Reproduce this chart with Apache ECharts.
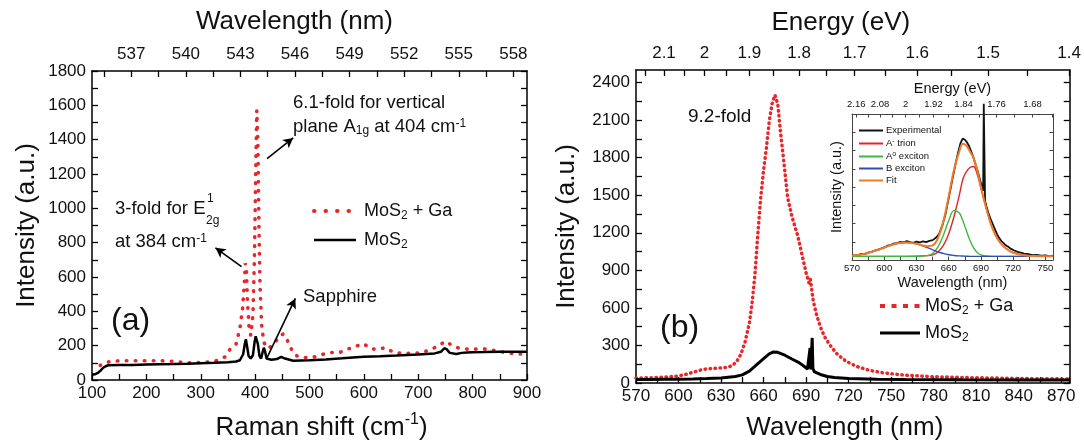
<!DOCTYPE html>
<html><head><meta charset="utf-8">
<script src="https://cdn.jsdelivr.net/npm/echarts@6/dist/echarts.min.js"></script>
<style>html,body{margin:0;padding:0;background:#fff}#c{width:1084px;height:446px}</style>
</head><body><div id="c"></div>
<script>
// ================= DATA =================
// (a) Raman spectra
const ramanShiftMoS2 = [100,105,110,115,120,125,130,150,175,200,225,250,275,300,325,350,365,372,378,381,383,385,388,392,396,399,401,403,405,408,411,414,416,418,421,430,440,448,455,470,500,530,560,600,630,660,700,730,742,748,752,758,770,780,790,800,820,850,875,900];
const ramanIntMoS2   = [30,33,40,52,70,80,86,88,87,90,92,93,95,98,100,103,108,115,150,210,237,200,140,125,145,220,255,262,210,140,125,165,188,170,125,118,122,135,125,112,115,120,126,135,138,142,148,155,165,185,180,158,152,158,160,162,163,165,165,165];
const ramanShiftGa = [115,120,130,150,175,200,225,250,275,300,325,345,355,365,372,377,380,382,384,386,389,392,396,399,401,403,405,407,409,412,416,422,430,438,446,452,458,465,472,480,495,510,525,540,555,570,585,597,605,615,625,640,655,670,690,705,720,735,745,752,760,775,790,805,820,840,860,880,900];
const ramanIntGa   = [85,95,105,112,112,112,112,108,100,102,108,135,185,210,300,420,560,680,640,450,300,260,380,750,1200,1570,1400,900,550,320,220,185,195,225,260,268,240,190,150,135,130,135,150,160,160,180,195,212,200,180,180,188,160,155,155,158,175,195,215,225,205,185,180,180,182,172,160,152,150];
const wavelengthTopLabels = [537,540,543,546,549,552,555,558];
const wavelengthTopTicks = [535.5,537,538.5,540,541.5,543,544.5,546,547.5,549,550.5,552,553.5,555,556.5,558];

// (b) PL spectra
const plWlGa  = [570,580,590,600,605,610,615,620,625,630,635,638,641,644,647,650,652,654,656,658,660,662,664,666,668,670,672,674,677,680,684,687,690,692,693,694.3,695,697,700,703,707,712,718,725,735,745,760,780,810,840,876];
const plIntGa = [40,42,46,56,68,85,102,113,117,120,127,140,170,230,330,480,650,880,1200,1480,1700,1880,2090,2230,2300,2230,2000,1800,1480,1330,1180,1030,880,800,830,820,660,560,450,370,300,230,175,135,100,80,62,50,42,36,32];
const plWlMoS2  = [570,580,590,600,610,620,630,640,645,650,655,660,664,667,670,675,680,685,689,691,692.2,692.8,693.3,693.8,694.3,694.8,696,700,705,710,720,740,760,800,840,876];
const plIntMoS2 = [28,28,29,30,32,35,40,52,65,95,145,195,232,248,245,222,192,163,130,112,102,280,108,105,360,115,88,68,52,44,36,30,27,25,24,23];
const plYLabels = [0,300,600,900,1200,1500,1800,2100,2400];
const plYTicks = [0,150,300,450,600,750,900,1050,1200,1350,1500,1650,1800,1950,2100,2250,2400];
const energyTopLabels = [2.1,2.0,1.9,1.8,1.7,1.6,1.5,1.4];
const energyTopTicks = [2.15,2.1,2.05,2.0,1.95,1.9,1.85,1.8,1.75,1.7,1.65,1.6,1.55,1.5,1.45,1.4];

// inset: PL fit
const insetWlExp  = [570,573,576,579,582,585,588,591,594,597,600,603,606,609,612,615,618,621,624,627,630,633,636,639,642,645,648,651,654,657,660,663,666,669,671,673,675,677,679,681,683,685,687,689,691,692,692.6,693.2,693.8,695,697,699,701,703,705,707,709,711,713,715,718,721,724,727,730,734,738,742,746,750,754,757];
const insetIntExp = [3.5,2.8,3.6,4.2,4.0,5.1,5.5,6.4,6.9,7.8,8.6,9.8,10.2,11.3,11.6,12.4,12.1,12.9,12.3,11.8,12.6,12.0,12.8,12.3,13.1,13.6,15.2,17.8,23.5,31.4,42.6,53.8,64.7,74.5,80.2,83.1,82.4,80.6,77.9,74.1,70.2,65.3,60.8,55.1,50.2,47.5,107,106,40.5,37,32,28,24.5,21,17.5,15,13,11.5,10,9.2,7.6,6.5,5.6,5.0,4.3,4.0,3.4,3.5,3.0,3.1,2.7,2.9];
const insetWlFit = [570,580,590,600,610,620,630,640,645,650,655,660,665,670,673,676,680,683,686,690,695,700,705,710,715,720,730,740,750,757];
const insetAminus = [2.5,2.5,2.5,2.5,2.5,2.5,2.6,3,3.5,5.5,10,18,30,45,55,60,63.5,64,60,49,35,23,15,10,7,5,3.2,2.7,2.5,2.5];
const insetA0     = [2.5,2.5,2.5,2.5,2.5,2.5,2.5,3,4.5,9,17,27,34,32,27,21,13,8.5,5.5,3.5,2.7,2.5,2.5,2.5,2.5,2.5,2.5,2.5,2.5,2.5];
const insetB      = [3,4,6,8.5,11,12,11,8.5,7,5.5,4.5,3.6,3.1,2.8,2.7,2.6,2.5,2.5,2.5,2.5,2.5,2.5,2.5,2.5,2.5,2.5,2.5,2.5,2.5,2.5];
const insetFit    = [3,4,6,8.5,11,12,11.1,9.5,10,15,26.5,43.6,62.1,74.8,79.7,78.6,74,70,63,50,35.2,23,15,10,7,5,3.2,2.7,2.5,2.5];
const insetEnergyLabels = [2.16,2.08,2.00,1.92,1.84,1.76,1.68];
const insetEnergyTicks = [2.16,2.12,2.08,2.04,2.00,1.96,1.92,1.88,1.84,1.80,1.76,1.72,1.68,1.64];

// annotation arrows (data coordinates of panel a)
const arrowA1g = [[422,1290],[470,1410]];
const arrowE2g = [[375,660],[327,770]];
const arrowSapphire = [[422,130],[474,475]];

// ================= CHART =================
const FONT = '"Liberation Sans", Arial, Helvetica, sans-serif';
const HC = 1239.84;
const pairs = (xs, ys) => xs.map((x, i) => [x, ys[i]]);
const toWl = arr => arr.map(e => HC / e);
const plain = v => String(v);

function merge(a, b) {
  const out = Array.isArray(a) ? a.slice() : Object.assign({}, a);
  for (const k in b) {
    const v = b[k];
    if (v && typeof v === 'object' && !Array.isArray(v) && a && typeof a[k] === 'object' && !Array.isArray(a[k])) out[k] = merge(a[k], v);
    else out[k] = v;
  }
  return out;
}
function axis(extra, inset) {
  const c = inset ? '#444' : '#000';
  const base = {
    type: 'value',
    axisLine: {show: true, onZero: false, lineStyle: {color: c, width: inset ? 1 : 1.5}},
    axisTick: {show: true, inside: true, length: inset ? 3.5 : 6, lineStyle: {color: c, width: inset ? 1 : 1.3}},
    minorTick: {show: false},
    axisLabel: {show: true, color: '#111', fontFamily: FONT, fontSize: inset ? 9.5 : 17, margin: 6, formatter: plain},
    splitLine: {show: false},
    nameLocation: 'middle',
    nameTextStyle: {color: '#111', fontFamily: FONT, fontSize: inset ? 14.5 : 26}
  };
  return merge(base, extra);
}
const supRich = {
  t: {fontFamily: FONT, fontSize: 26, color: '#111', lineHeight: 32},
  p: {fontFamily: FONT, fontSize: 16, color: '#111', verticalAlign: 'top', lineHeight: 17}
};
const legendRich = {
  m: {fontFamily: FONT, fontSize: 18, color: '#111', lineHeight: 22},
  s: {fontFamily: FONT, fontSize: 12, color: '#111', verticalAlign: 'bottom', lineHeight: 12}
};
const insetRich = {
  m: {fontFamily: FONT, fontSize: 9.5, color: '#111', lineHeight: 12},
  u: {fontFamily: FONT, fontSize: 7, color: '#111', verticalAlign: 'top', lineHeight: 7}
};
const legendText = {
  a_ga: '{m|MoS}{s|2}{m| + Ga}', a_mos: '{m|MoS}{s|2}',
  b_ga: '{m|MoS}{s|2}{m| + Ga}', b_mos: '{m|MoS}{s|2}',
  exp: '{m|Experimental}', trion: '{m|A}{u|-}{m| trion}', a0: '{m|A}{u|o}{m| exciton}',
  bex: '{m|B exciton}', fit: '{m|Fit}'
};
const energyFmt = v => String(+(HC / v).toFixed(2));
const legendBase = {orient: 'vertical', selectedMode: false, padding: 0, itemStyle: {opacity: 0}, formatter: n => legendText[n]};

const RED = '#e8262a';
const option = {
  animation: false,
  backgroundColor: '#fff',
  grid: [
    {left: 92, right: 557, top: 71, bottom: 58},
    {left: 636, right: 13, top: 70, bottom: 58},
    {left: 852, right: 31, top: 114, bottom: 186}
  ],
  xAxis: [
    axis({gridIndex: 0, position: 'bottom', min: 100, max: 900, interval: 100,
      minorTick: {show: true, splitNumber: 2, length: 6, lineStyle: {color: '#000', width: 1.3}},
      axisLabel: {margin: 5},
      name: '{t|Raman shift (cm}{p|-1}{t|)}', nameGap: 32, nameTextStyle: {rich: supRich, padding: [0, 0, 0, 24]}}),
    axis({gridIndex: 0, position: 'top', min: 534.84, max: 558.75,
      axisLabel: {customValues: wavelengthTopLabels, formatter: v => String(Math.round(v)), margin: 8},
      axisTick: {customValues: wavelengthTopTicks},
      name: 'Wavelength (nm)', nameGap: 36, nameTextStyle: {padding: [0, 30, 0, 0]}}),
    axis({gridIndex: 1, position: 'bottom', min: 570, max: 876, interval: 30,
      minorTick: {show: true, splitNumber: 2, length: 6, lineStyle: {color: '#000', width: 1.3}},
      axisLabel: {margin: 5},
      name: 'Wavelength (nm)', nameGap: 32, nameTextStyle: {padding: [0, 16, 0, 0]}}),
    axis({gridIndex: 1, position: 'top', min: 570, max: 886,
      axisLabel: {customValues: toWl(energyTopLabels), formatter: energyFmt, margin: 8},
      axisTick: {customValues: toWl(energyTopTicks)},
      name: 'Energy (eV)', nameGap: 34, nameTextStyle: {padding: [0, 24, 0, 0]}}),
    axis({gridIndex: 2, position: 'bottom', min: 570, max: 757, interval: 30,
      minorTick: {show: true, splitNumber: 2, length: 3.5, lineStyle: {color: '#444', width: 1}},
      axisLabel: {margin: 3},
      name: 'Wavelength (nm)', nameGap: 15}, true),
    axis({gridIndex: 2, position: 'top', min: 570, max: 757,
      axisLabel: {customValues: toWl(insetEnergyLabels), formatter: energyFmt, margin: 5},
      axisTick: {customValues: toWl(insetEnergyTicks)},
      name: 'Energy (eV)', nameGap: 18}, true)
  ],
  yAxis: [
    axis({gridIndex: 0, position: 'left', min: 0, max: 1800, interval: 200,
      minorTick: {show: true, splitNumber: 2, length: 6, lineStyle: {color: '#000', width: 1.3}},
      name: 'Intensity (a.u.)', nameGap: 52}),
    axis({gridIndex: 0, position: 'right', min: 0, max: 1800, interval: 200,
      minorTick: {show: true, splitNumber: 2, length: 6, lineStyle: {color: '#000', width: 1.3}},
      axisLabel: {show: false}}),
    axis({gridIndex: 1, position: 'left', min: 0, max: 2500,
      axisLabel: {customValues: plYLabels},
      axisTick: {customValues: plYTicks},
      name: 'Intensity (a.u.)', nameGap: 56}),
    axis({gridIndex: 1, position: 'right', min: 0, max: 2500,
      axisLabel: {show: false, customValues: plYLabels},
      axisTick: {customValues: plYTicks}}),
    axis({gridIndex: 2, position: 'left', min: 0, max: 100, interval: 12.5,
      axisLabel: {show: false},
      name: 'Intensity (a.u.)', nameGap: 8}, true),
    axis({gridIndex: 2, position: 'right', min: 0, max: 100, interval: 12.5,
      axisLabel: {show: false}}, true)
  ],
  legend: [
    Object.assign({}, legendBase, {
      data: [
        {name: 'a_ga', lineStyle: {width: 4, type: [0.5, 11], cap: 'round', color: RED}},
        {name: 'a_mos', lineStyle: {width: 2.6, color: '#000'}}
      ],
      left: 312, top: 202, itemWidth: 42, itemHeight: 18, itemGap: 9,
      textStyle: {rich: legendRich, padding: [0, 0, 0, 3]}}),
    Object.assign({}, legendBase, {
      data: [
        {name: 'b_ga', lineStyle: {width: 4, type: [5, 6.5], cap: 'butt', color: RED}},
        {name: 'b_mos', lineStyle: {width: 3, color: '#000'}}
      ],
      left: 878, top: 297, itemWidth: 40, itemHeight: 18, itemGap: 7,
      textStyle: {rich: legendRich}}),
    Object.assign({}, legendBase, {
      data: ['exp', 'trion', 'a0', 'bex', 'fit'].map(n => ({name: n, lineStyle: {width: 2}})),
      left: 858, top: 125.5, itemWidth: 24, itemHeight: 10, itemGap: 2,
      textStyle: {rich: insetRich, padding: [0, 0, 0, -2]}})
  ],
  series: [
    {name: 'a_ga', type: 'line', xAxisIndex: 0, yAxisIndex: 0, data: pairs(ramanShiftGa, ramanIntGa),
      symbol: 'none', showSymbol: false, lineStyle: {color: RED, width: 3.6, type: [0.5, 8.5], cap: 'round'}, itemStyle: {color: RED}, z: 3},
    {name: 'a_mos', type: 'line', xAxisIndex: 0, yAxisIndex: 0, data: pairs(ramanShiftMoS2, ramanIntMoS2),
      symbol: 'none', showSymbol: false, lineStyle: {color: '#000', width: 2.5}, itemStyle: {color: '#000'}, z: 4,
      markLine: {silent: true, symbol: ['none', 'arrow'], symbolSize: [8, 10], label: {show: false},
        lineStyle: {color: '#000', width: 1.6, type: 'solid'},
        data: [arrowA1g, arrowE2g, arrowSapphire].map(a => [{coord: a[0]}, {coord: a[1]}])}},
    {name: 'b_ga', type: 'line', xAxisIndex: 2, yAxisIndex: 2, data: pairs(plWlGa, plIntGa),
      symbol: 'none', showSymbol: false, lineStyle: {color: RED, width: 3.5, type: [0.5, 4.5], cap: 'round'}, itemStyle: {color: RED}, z: 3},
    {name: 'b_mos', type: 'line', xAxisIndex: 2, yAxisIndex: 2, data: pairs(plWlMoS2, plIntMoS2),
      symbol: 'none', showSymbol: false, lineStyle: {color: '#000', width: 3}, itemStyle: {color: '#000'}, z: 4},
    {name: 'exp', type: 'line', xAxisIndex: 4, yAxisIndex: 4, data: pairs(insetWlExp, insetIntExp), clip: false,
      symbol: 'none', showSymbol: false, lineStyle: {color: '#111', width: 1.8}, itemStyle: {color: '#111'}, z: 3},
    {name: 'trion', type: 'line', xAxisIndex: 4, yAxisIndex: 4, data: pairs(insetWlFit, insetAminus), smooth: 0.4,
      symbol: 'none', showSymbol: false, lineStyle: {color: '#e3242b', width: 1.4}, itemStyle: {color: '#e3242b'}, z: 4},
    {name: 'a0', type: 'line', xAxisIndex: 4, yAxisIndex: 4, data: pairs(insetWlFit, insetA0), smooth: 0.4,
      symbol: 'none', showSymbol: false, lineStyle: {color: '#3cb83c', width: 1.4}, itemStyle: {color: '#3cb83c'}, z: 4},
    {name: 'bex', type: 'line', xAxisIndex: 4, yAxisIndex: 4, data: pairs(insetWlFit, insetB), smooth: 0.4,
      symbol: 'none', showSymbol: false, lineStyle: {color: '#2f4fb5', width: 1.4}, itemStyle: {color: '#2f4fb5'}, z: 4},
    {name: 'fit', type: 'line', xAxisIndex: 4, yAxisIndex: 4, data: pairs(insetWlFit, insetFit), smooth: 0.4,
      symbol: 'none', showSymbol: false, lineStyle: {color: '#f07a26', width: 2}, itemStyle: {color: '#f07a26'}, z: 5}
  ],
  graphic: [
    {type: 'text', x: 293, y: 103, style: {text: '6.1-fold for vertical', fontFamily: FONT, fontSize: 18.5, fill: '#111', verticalAlign: 'middle'}},
    {type: 'text', x: 293, y: 127, style: {text: 'plane A{s|1g} at 404 cm{p|-1}', fontFamily: FONT, fontSize: 18.5, fill: '#111', verticalAlign: 'middle',
      rich: {s: {fontSize: 12, verticalAlign: 'bottom', lineHeight: 12}, p: {fontSize: 12, verticalAlign: 'top', lineHeight: 12}}}},
    {type: 'text', x: 115, y: 209, style: {text: '3-fold for E', fontFamily: FONT, fontSize: 18.5, fill: '#111', verticalAlign: 'middle'}},
    {type: 'text', x: 207, y: 199, style: {text: '1', fontFamily: FONT, fontSize: 12, fill: '#111', verticalAlign: 'middle'}},
    {type: 'text', x: 206, y: 221, style: {text: '2g', fontFamily: FONT, fontSize: 12, fill: '#111', verticalAlign: 'middle'}},
    {type: 'text', x: 115, y: 242, style: {text: 'at 384 cm{p|-1}', fontFamily: FONT, fontSize: 18.5, fill: '#111', verticalAlign: 'middle',
      rich: {p: {fontSize: 12, verticalAlign: 'top', lineHeight: 12}}}},
    {type: 'text', x: 303, y: 297, style: {text: 'Sapphire', fontFamily: FONT, fontSize: 18.5, fill: '#111', verticalAlign: 'middle'}},
    {type: 'text', x: 111, y: 321, style: {text: '(a)', fontFamily: FONT, fontSize: 32, fill: '#111', verticalAlign: 'middle'}},
    {type: 'text', x: 688, y: 117, style: {text: '9.2-fold', fontFamily: FONT, fontSize: 19, fill: '#111', verticalAlign: 'middle'}},
    {type: 'text', x: 660, y: 328, style: {text: '(b)', fontFamily: FONT, fontSize: 32, fill: '#111', verticalAlign: 'middle'}}
  ]
};
const chart = echarts.init(document.getElementById('c'), null, {renderer: 'canvas'});
chart.setOption(option);
</script></body></html>
